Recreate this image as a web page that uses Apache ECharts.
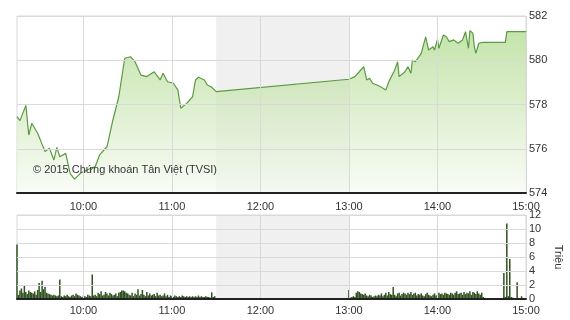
<!DOCTYPE html>
<html><head><meta charset="utf-8">
<script src="https://cdn.jsdelivr.net/npm/echarts@6/dist/echarts.min.js"></script>
<style>html,body{margin:0;padding:0;background:#fff}#c{width:570px;height:320px}</style>
</head><body><div id="c"></div>
<script>
// time in minutes since midnight
const priceTimes = [555,557,561,563,565,569,574,577,580,582,584,588,591,594,598,605,608,611,616,620,624,628,632,635,639,643,648,652,654,657,661,664,666,670,674,676,678,682,684,687,690,
780,784,787,790,792,794,796,799,802,805,807,811,813,814,818,820,822,823,825,829,832,834,837,838,840,841,844,846,848,851,854,857,859,861,862,864,865,866,868,871,886,887,900];
const priceValues = [577.45,577.27,577.96,576.62,577.15,576.7,575.87,576.02,575.49,576.06,575.64,575.79,574.89,574.63,574.89,575.12,575.19,575.72,576.09,577.3,578.35,580.09,580.16,579.93,579.33,579.26,579.48,579.11,579.41,579.03,578.96,578.66,577.83,578.05,578.35,579.11,579.23,579.11,578.88,578.78,578.58,
579.14,579.26,579.48,579.71,579.11,579.18,578.96,578.88,578.78,578.66,579.03,579.56,579.93,579.26,579.48,579.71,579.41,580.01,579.93,580.31,581.06,580.46,580.61,580.46,580.95,580.54,581.14,581.06,580.84,580.92,580.77,580.92,581.29,580.54,581.34,581.22,580.61,580.31,580.77,580.81,580.81,581.29,581.29];

const volMorningStart = 555;
const volMorning = [7.8,0.6,1.2,1.5,0.9,1.9,1.0,0.7,1.2,1.0,
0.9,0.8,1.1,0.6,1.3,2.3,1.0,2.6,1.4,1.7,
0.9,0.8,0.7,0.6,0.5,0.6,0.5,0.4,0.5,2.8,
0.4,0.3,0.5,0.4,0.6,0.4,0.3,0.5,0.6,0.4,
0.8,0.6,0.5,0.4,0.3,0.5,0.4,0.3,0.6,0.5,
0.4,3.5,0.5,0.6,0.4,0.9,0.7,1.1,0.5,0.6,
1.0,0.8,0.5,0.9,0.7,0.5,0.6,0.8,0.4,0.9,
1.0,1.2,1.2,1.1,0.9,0.8,0.6,0.5,0.9,0.4,
0.8,0.6,1.4,0.5,0.7,1.3,0.6,0.4,1.0,0.5,
0.8,0.5,0.6,0.7,0.4,0.9,0.5,0.6,0.4,0.5,
0.8,0.4,0.6,0.3,0.5,0.4,0.3,0.5,0.4,0.3,
0.4,0.3,0.5,0.4,0.3,0.4,0.3,0.4,0.3,0.4,
0.3,0.4,0.3,0.5,0.3,0.4,0.3,0.3,0.4,0.3,
0.3,0.2,0.95,0.3,0.4];
const volAfternoonStart = 780;
const volAfternoon = [1.3,0.2,0.3,0.4,0.3,0.9,1.1,1.0,0.8,0.7,
0.6,0.8,0.5,0.4,0.6,0.5,0.3,0.4,0.5,0.4,
0.6,0.5,0.8,0.4,0.6,0.9,0.5,1.0,0.7,0.6,
1.7,0.6,0.4,0.8,0.9,0.5,0.7,0.9,0.8,0.6,
0.9,0.7,1.0,0.6,0.8,0.9,0.5,0.7,0.6,0.8,
0.5,0.4,0.7,0.9,0.6,0.5,0.4,0.6,0.8,0.5,
0.6,0.9,0.7,0.8,0.6,0.9,0.8,0.7,0.6,0.9,
0.8,0.6,0.9,1.1,0.7,0.8,0.9,0.6,1.0,0.7,
0.9,0.8,1.1,0.6,1.0,0.9,0.7,1.1,0.8,0.6,
0.9,0.3];
const volCloseTimes = [885,886,887,888,889,890,891,894,897];
const volCloseValues = [3.7,0.3,10.8,0.4,5.7,0.3,0.2,2.4,0.4];

const timeTicks = [600,660,720,780,840,900];
const priceTicks = [574,576,578,580,582];
const volTicks = [0,2,4,6,8,10,12];
const lunch = [690,780];
const copyright = '© 2015 Chứng khoán Tân Việt (TVSI)';
const volUnit = 'Triệu';

const priceData = priceTimes.map((t,i)=>[t,priceValues[i]]);
const volData = [];
volMorning.forEach((v,i)=>volData.push([volMorningStart+i,v]));
volAfternoon.forEach((v,i)=>volData.push([volAfternoonStart+i,v]));
volCloseTimes.forEach((t,i)=>volData.push([t,volCloseValues[i]]));

const fmt = v => { const h=Math.floor(v/60), m=v%60; return h+':'+(m<10?'0':'')+m; };
const FONT = 'Arial, "Liberation Sans", sans-serif';
const gridColor = '#d9d9d9';

function xAxisFor(idx, margin){
  return {type:'value', gridIndex:idx, min:555, max:900, z:3,
    axisLine:{show:true, onZero:false, lineStyle:{color:'#222', width:2}},
    axisTick:{show:false, customValues:timeTicks},
    axisLabel:{customValues:timeTicks, formatter:fmt, color:'#333', fontSize:11, fontFamily:FONT, margin:margin},
    splitLine:{show:true, lineStyle:{color:gridColor, width:1}}};
}

const chart = echarts.init(document.getElementById('c'), null, {renderer:'canvas'});
chart.setOption({
  animation:false,
  backgroundColor:'#fff',
  grid:[
    {left:17, right:44, top:16, height:177, show:true, borderColor:gridColor, borderWidth:1, outerBoundsMode:'none', containLabel:false},
    {left:17, right:44, top:215, height:84, show:true, borderColor:gridColor, borderWidth:1, outerBoundsMode:'none', containLabel:false}
  ],
  xAxis:[xAxisFor(0,8), xAxisFor(1,6)],
  yAxis:[
    {type:'value', gridIndex:0, position:'right', min:574, max:582, interval:2, z:3,
      axisLine:{show:false}, axisTick:{show:false},
      axisLabel:{color:'#333', fontSize:11, fontFamily:FONT, margin:3},
      splitLine:{show:true, lineStyle:{color:gridColor}}},
    {type:'value', gridIndex:1, position:'right', min:0, max:12, interval:2, z:3,
      name:volUnit, nameLocation:'middle', nameRotate:-90, nameGap:27,
      nameTextStyle:{color:'#333', fontSize:11, fontFamily:FONT},
      axisLine:{show:false}, axisTick:{show:false},
      axisLabel:{color:'#333', fontSize:11, fontFamily:FONT, margin:3},
      splitLine:{show:true, lineStyle:{color:gridColor}}}
  ],
  series:[
    {type:'line', xAxisIndex:0, yAxisIndex:0, data:[], silent:true,
      markArea:{silent:true, itemStyle:{color:'#f0f0f0'}, data:[[{xAxis:lunch[0]},{xAxis:lunch[1]}]]}, z:1},
    {type:'line', xAxisIndex:0, yAxisIndex:0, data:priceData, symbol:'none', z:2,
      lineStyle:{color:'#5a9a40', width:1.2},
      areaStyle:{origin:'start', color:new echarts.graphic.LinearGradient(0,0,0,1,[{offset:0,color:'#acd888'},{offset:1,color:'#f7fbf3'}])}},
    {type:'line', xAxisIndex:1, yAxisIndex:1, data:[], silent:true,
      markArea:{silent:true, itemStyle:{color:'#f0f0f0'}, data:[[{xAxis:lunch[0]},{xAxis:lunch[1]}]]}, z:1},
    {type:'custom', xAxisIndex:1, yAxisIndex:1, data:volData, z:2, silent:true,
      encode:{x:0, y:1},
      renderItem:function(params, api){
        const p0 = api.coord([api.value(0), 0]);
        const p1 = api.coord([api.value(0), api.value(1)]);
        return {type:'rect', shape:{x:p0[0]-0.75, y:p1[1], width:1.5, height:p0[1]-p1[1]},
          style:{fill:'#2f5220'}};
      }}
  ],
  graphic:[{type:'text', left:33, top:164, z:10, style:{text:copyright, fill:'#333', font:'11px '+FONT}}]
});
</script></body></html>
